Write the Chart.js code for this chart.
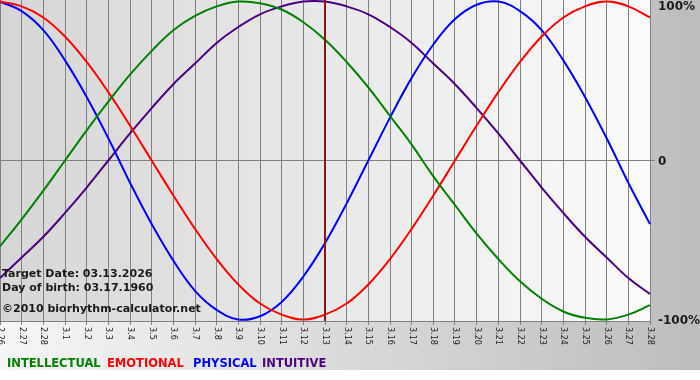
<!DOCTYPE html>
<html>
<head>
<meta charset="utf-8">
<script src="https://cdn.jsdelivr.net/npm/chart.js@4.4.1/dist/chart.umd.min.js"></script>
<style>
  html, body { margin: 0; padding: 0; background: #fff; }
  canvas { display: block; }
</style>
</head>
<body>
<canvas id="bioChart" width="700" height="380"></canvas>
<script>
// days shown on the x axis (month.day)
const days = ["2.26", "2.27", "2.28", "3.1", "3.2", "3.3", "3.4", "3.5", "3.6", "3.7", "3.8",
  "3.9", "3.10", "3.11", "3.12", "3.13", "3.14", "3.15", "3.16", "3.17", "3.18", "3.19",
  "3.20", "3.21", "3.22", "3.23", "3.24", "3.25", "3.26", "3.27", "3.28"];

// cycle values, -1 .. 1 (at each day line)
const intellectual = [-0.54, -0.37, -0.19, 0, 0.19, 0.37, 0.54, 0.69, 0.82, 0.91, 0.97,
  1.0, 0.99, 0.95, 0.87, 0.76, 0.62, 0.46, 0.28, 0.1, -0.1, -0.28,
  -0.46, -0.62, -0.76, -0.87, -0.95, -0.99, -1.0, -0.97, -0.91];
const emotional = [1.0, 0.97, 0.9, 0.78, 0.62, 0.43, 0.22, 0, -0.22, -0.43, -0.62,
  -0.78, -0.9, -0.97, -1.0, -0.97, -0.9, -0.78, -0.62, -0.43, -0.22, 0,
  0.22, 0.43, 0.62, 0.78, 0.9, 0.97, 1.0, 0.97, 0.9];
const physical = [1.0, 0.94, 0.82, 0.63, 0.4, 0.14, -0.14, -0.4, -0.63, -0.82, -0.94,
  -1.0, -0.98, -0.89, -0.73, -0.52, -0.27, 0, 0.27, 0.52, 0.73, 0.89,
  0.98, 1.0, 0.94, 0.82, 0.63, 0.4, 0.14, -0.14, -0.4];
const intuitive = [-0.74, -0.61, -0.48, -0.33, -0.17, 0, 0.17, 0.33, 0.48, 0.61, 0.74,
  0.84, 0.92, 0.97, 1.0, 1.0, 0.97, 0.92, 0.84, 0.74, 0.61, 0.48,
  0.33, 0.17, 0, -0.17, -0.33, -0.48, -0.61, -0.74, -0.84];

const percentValues = [1, 0, -1];
const percentLabels = ["100%", "0", "-100%"];
const targetDay = "3.13";
const infoLines = ["Target Date: 03.13.2026", "Day of birth: 03.17.1960", "\u00a92010 biorhythm-calculator.net"];

const GRID = "#808080";

// backgrounds: page gradient + plot area gradient
const backdrop = {
    id: "backdrop",
    beforeDraw(chart) {
        const { ctx, chartArea: a, width, height } = chart;
        ctx.save();
        ctx.fillStyle = "#ffffff";
        ctx.fillRect(0, 0, width, height);
        let g = ctx.createLinearGradient(0, 0, width, 0);
        g.addColorStop(0, "#f6f6f6");
        g.addColorStop(1, "#bdbdbd");
        ctx.fillStyle = g;
        ctx.fillRect(0, 0, width, 370);
        g = ctx.createLinearGradient(a.left, 0, a.right, 0);
        g.addColorStop(0, "#d6d6d6");
        g.addColorStop(1, "#fbfbfb");
        ctx.fillStyle = g;
        ctx.fillRect(a.left, a.top, a.right - a.left, a.bottom - a.top);
        ctx.restore();
    }
};

// target-date marker and the info text inside the plot
const overlay = {
    id: "overlay",
    afterDatasetsDraw(chart) {
        const { ctx, chartArea: a, scales: { x } } = chart;
        ctx.save();
        const tx = Math.round(x.getPixelForValue(days.indexOf(targetDay)));
        ctx.strokeStyle = "#8b1414";
        ctx.lineWidth = 2;
        ctx.beginPath();
        ctx.moveTo(tx, a.top);
        ctx.lineTo(tx, a.bottom);
        ctx.stroke();

        ctx.fillStyle = "#1a1a1a";
        ctx.font = "bold 11px 'DejaVu Sans'";
        ctx.textAlign = "left";
        ctx.textBaseline = "alphabetic";
        const baselines = [277, 290.5, 311.5];
        infoLines.forEach((t, i) => ctx.fillText(t, a.left + 2, baselines[i]));
        ctx.restore();
    },
    afterDraw(chart) {
        const { ctx, chartArea: a, scales: { x, y } } = chart;
        ctx.save();

        // rotated day labels
        ctx.fillStyle = "#222";
        ctx.font = "8px 'DejaVu Sans'";
        ctx.textAlign = "left";
        ctx.textBaseline = "middle";
        days.forEach((d, i) => {
            ctx.save();
            ctx.translate(x.getPixelForValue(i), a.bottom + 6);
            ctx.rotate(Math.PI / 2);
            ctx.fillText(d, 0, 0);
            ctx.restore();
        });

        // percent labels on the right
        ctx.fillStyle = "#1a1a1a";
        ctx.font = "bold 12px 'DejaVu Sans'";
        percentValues.forEach((v, i) => {
            const py = Math.max(y.getPixelForValue(v) + 1, a.top + 7);
            ctx.fillText(percentLabels[i], a.right + 8, py);
        });

        // coloured legend words
        ctx.font = "bold 11.5px 'DejaVu Sans'";
        ctx.textBaseline = "alphabetic";
        const starts = [7, 107, 193, 262];
        chart.data.datasets.forEach((ds, i) => {
            ctx.fillStyle = ds.borderColor;
            ctx.fillText(ds.label, starts[i], 367);
        });
        ctx.restore();
    }
};

const ctx = document.getElementById("bioChart").getContext("2d");
const bioChart = new Chart(ctx, {
    type: "line",
    data: {
        labels: days,
        datasets: [
            { label: "INTELLECTUAL", data: intellectual, borderColor: "#008000" },
            { label: "EMOTIONAL", data: emotional, borderColor: "#ff0000" },
            { label: "PHYSICAL", data: physical, borderColor: "#0000ff" },
            { label: "INTUITIVE", data: intuitive, borderColor: "#4b0082" }
        ]
    },
    options: {
        responsive: false,
        animation: false,
        events: [],
        layout: { padding: { left: 0, top: 0, right: 45, bottom: 55 } },
        elements: {
            line: { borderWidth: 2, tension: 0.4, fill: false },
            point: { radius: 0 }
        },
        plugins: {
            legend: { display: false },
            tooltip: { enabled: false }
        },
        scales: {
            x: {
                offset: false,
                ticks: { display: false },
                grid: { color: GRID, lineWidth: 1, tickLength: 4, drawTicks: true },
                border: { display: true, color: GRID }
            },
            y: {
                position: "right",
                min: -1.01,
                max: 1.01,
                ticks: { display: false, stepSize: 1 },
                grid: {
                    color: c => (c.tick && c.tick.value === 0 ? GRID : "rgba(0,0,0,0)"),
                    tickLength: 5,
                    drawTicks: true
                },
                border: { display: false }
            }
        }
    },
    plugins: [backdrop, overlay]
});
</script>
</body>
</html>
